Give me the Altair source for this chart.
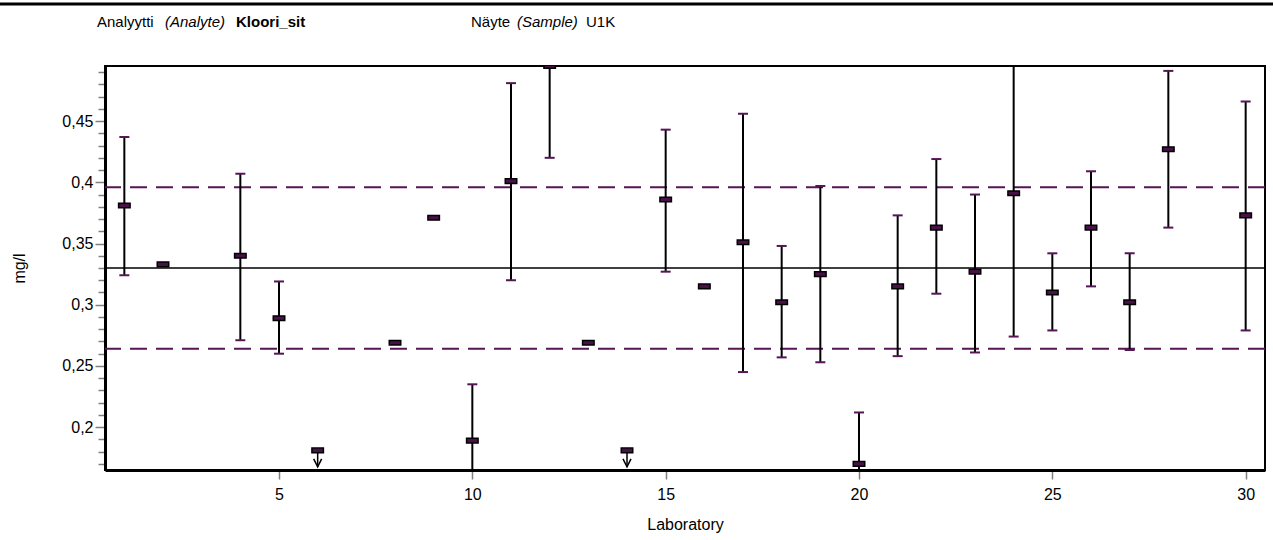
import altair as alt
import pandas as pd

# Laboratory results for chloride (Kloori_sit), sample U1K, in mg/l
labs = [1, 2, 4, 5, 6, 8, 9, 10, 11, 12, 13, 14, 15, 16, 17, 18, 19, 20,
        21, 22, 23, 24, 25, 26, 27, 28, 30]
results = [0.381, 0.333, 0.340, 0.289, 0.181, 0.269, 0.371, 0.189, 0.401, 0.495,
           0.269, 0.181, 0.386, 0.315, 0.351, 0.302, 0.325, 0.170, 0.315, 0.363,
           0.327, 0.391, 0.310, 0.363, 0.302, 0.427, 0.373]
# reported measurement uncertainty range (None = not reported)
lower = [0.324, None, 0.271, 0.260, None, None, None, 0.130, 0.320, 0.420,
         None, None, 0.327, None, 0.245, 0.257, 0.253, 0.130, 0.258, 0.309,
         0.261, 0.274, 0.279, 0.315, 0.263, 0.363, 0.279]
upper = [0.437, None, 0.407, 0.319, None, None, None, 0.235, 0.481, 0.560,
         None, None, 0.443, None, 0.456, 0.348, 0.397, 0.212, 0.373, 0.419,
         0.390, 0.520, 0.342, 0.409, 0.342, 0.491, 0.466]

# results reported as "less than" values
below_labs = [6, 14]
below_values = [0.181, 0.181]
arrow_tip = [0.1676, 0.1676]
arrow_head = [0.1708, 0.1708]

assigned_value = 0.33
limits = [0.264, 0.396]

x_ticks = [5, 10, 15, 20, 25, 30]
y_ticks = [round(0.17 + 0.01 * i, 2) for i in range(33)]

x_domain = [0.5, 30.5]
y_domain = [0.165, 0.495]

FONT = "Liberation Sans"
PURPLE = "#561656"

df = pd.DataFrame({"lab": labs, "result": results, "lo": lower, "hi": upper})
err = df.dropna(subset=["lo", "hi"])
below = pd.DataFrame({"lab": below_labs, "result": below_values,
                      "tip": arrow_tip, "head": arrow_head})

x_scale = alt.Scale(domain=x_domain, nice=False, zero=False)
y_scale = alt.Scale(domain=y_domain, nice=False, zero=False)

major = "abs(datum.value*20 - round(datum.value*20)) < 0.001"

x_axis = alt.Axis(
    values=x_ticks, format="d", title="Laboratory", grid=False,
    tickSize=9, tickColor="#808080", tickWidth=1.5,
    labelFont=FONT, labelFontSize=16, labelColor="black", labelPadding=7,
    labelOverlap=False,
    domainColor="black", domainWidth=3,
    titleFont=FONT, titleFontSize=16, titleFontWeight="normal", titleColor="black",
    titleBaseline="alphabetic", titleY=59,
)
y_axis = alt.Axis(
    values=y_ticks, tickCount=100, title="mg/l", grid=False,
    tickSize={"condition": {"test": major, "value": 10}, "value": 7},
    tickColor="#808080", tickWidth=1.5,
    labelExpr=f"{major} ? replace(toString(datum.value), '.', ',') : ''",
    labelFont=FONT, labelFontSize=16, labelColor="black", labelPadding=2,
    labelOverlap=False,
    domainColor="black", domainWidth=3,
    titleFont=FONT, titleFontSize=16, titleFontWeight="normal", titleColor="black",
    titleAngle=270, titleAlign="center", titleBaseline="middle",
    titleX=-86, titleY=202,
)

base_x = alt.X("lab:Q", scale=x_scale, axis=x_axis)

# assigned value and acceptance limits
centre = alt.Chart(pd.DataFrame({"y": [assigned_value]})).mark_rule(
    color="black", strokeWidth=1.5
).encode(y=alt.Y("y:Q", scale=y_scale, axis=y_axis))

limit_lines = alt.Chart(pd.DataFrame({"y": limits})).mark_rule(
    color=PURPLE, strokeWidth=2, strokeDash=[17, 9]
).encode(y=alt.Y("y:Q", scale=y_scale))

# uncertainty bars
bars = alt.Chart(err).mark_rule(color="black", strokeWidth=2, clip=True).encode(
    x=base_x, y=alt.Y("lo:Q", scale=y_scale), y2="hi:Q"
)
cap_hi = alt.Chart(err).mark_tick(
    orient="horizontal", size=10, thickness=2, color=PURPLE, clip=True, opacity=1
).encode(x=base_x, y=alt.Y("hi:Q", scale=y_scale))
cap_lo = alt.Chart(err).mark_tick(
    orient="horizontal", size=10, thickness=2, color=PURPLE, clip=True, opacity=1
).encode(x=base_x, y=alt.Y("lo:Q", scale=y_scale))

# "less than" arrows
stems = alt.Chart(below).mark_rule(color="black", strokeWidth=1.5).encode(
    x=base_x, y=alt.Y("result:Q", scale=y_scale), y2="tip:Q"
)
heads = alt.Chart(below).mark_point(
    shape="M-1,-1L0,1L1,-1", size=64, filled=False, stroke="black",
    strokeWidth=1.5, opacity=1
).encode(x=base_x, y=alt.Y("head:Q", scale=y_scale))

# result markers
markers = alt.Chart(df).mark_point(
    shape="M-1,-0.4H1V0.4H-1Z", size=132, filled=True, fill="#4a1048",
    stroke="black", strokeWidth=1.5, opacity=1, clip=True
).encode(x=base_x, y=alt.Y("result:Q", scale=y_scale))

# header line and analyte / sample caption
one = alt.Data(values=[{}])
top_line = alt.Chart(one).mark_rule(color="black", strokeWidth=3).encode(
    x=alt.value(-105), x2=alt.value(1168), y=alt.value(-62)
)


def caption(text, x, style="normal", weight="normal"):
    return alt.Chart(one).mark_text(
        align="left", baseline="alphabetic", font=FONT, fontSize=15,
        fontStyle=style, fontWeight=weight, color="black"
    ).encode(x=alt.value(x), y=alt.value(-39), text=alt.value(text))


header = [
    caption("Analyytti", -8),
    caption("(Analyte)", 60, style="italic"),
    caption("Kloori_sit", 131, weight="bold"),
    caption("Näyte", 366),
    caption("(Sample)", 412, style="italic"),
    caption("U1K", 481),
]

chart = alt.layer(
    centre, limit_lines, bars, cap_hi, cap_lo, stems, heads, markers,
    top_line, *header
).properties(
    width=1160, height=404,
    padding={"left": 105, "top": 66, "right": 8, "bottom": 70},
    autosize=alt.AutoSizeParams(type="none"),
    background="white",
).configure_view(stroke="black", strokeWidth=2)

chart.save("out.html", embed_options={"renderer": "svg", "actions": False})
